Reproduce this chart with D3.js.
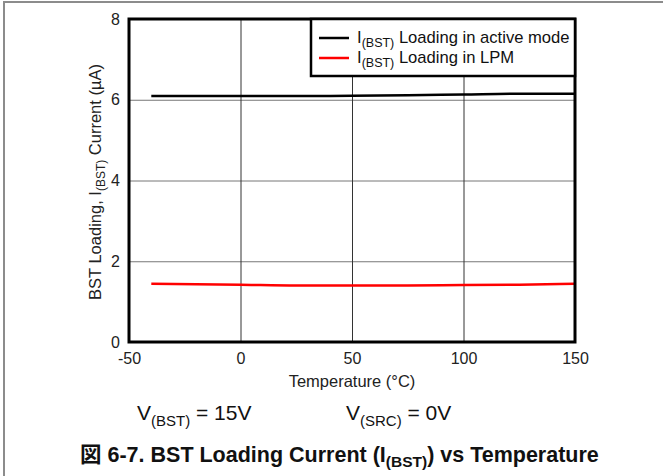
<!DOCTYPE html>
<html><head><meta charset="utf-8">
<script src="https://cdn.jsdelivr.net/npm/d3@7"></script>
<style>
body{margin:0;background:#fff;}
text{font-family:"Liberation Sans",Arial,sans-serif;}
</style></head>
<body><svg id="c" width="663" height="476"></svg>
<script>
const temps = [-40, 0, 25, 50, 75, 100, 125, 150];
const activeMode = [6.09, 6.09, 6.09, 6.10, 6.11, 6.13, 6.15, 6.15];
const lpm = [1.445, 1.42, 1.40, 1.40, 1.40, 1.41, 1.42, 1.44];
const xTicks = [-50, 0, 50, 100, 150];
const yTicks = [0, 2, 4, 6, 8];
const seriesNames = ["Loading in active mode", "Loading in LPM"];
const seriesColors = ["#000000", "#ff0000"];

const svg = d3.select("#c");
const L = 129, R = 575, T = 19, B = 342;
const x = d3.scaleLinear().domain([-50, 150]).range([L, R]);
const y = d3.scaleLinear().domain([0, 8]).range([B, T]);

// outer figure border (top & left)
svg.append("line").attr("x1",4).attr("x2",663).attr("y1",2).attr("y2",2).attr("stroke","#8c8c8c").attr("stroke-width",2);
svg.append("line").attr("x1",4).attr("x2",4).attr("y1",1).attr("y2",476).attr("stroke","#8c8c8c").attr("stroke-width",2);

// grid
svg.append("g").selectAll("line").data(yTicks.filter(d=>d>0&&d<8)).join("line")
  .attr("x1",L).attr("x2",R).attr("y1",d=>y(d)+0.5).attr("y2",d=>y(d)+0.5)
  .attr("stroke","#777").attr("stroke-width",1);
svg.append("g").selectAll("line").data(xTicks.filter(d=>d>-50&&d<150)).join("line")
  .attr("y1",T).attr("y2",B).attr("x1",d=>x(d)+0.5).attr("x2",d=>x(d)+0.5)
  .attr("stroke","#333").attr("stroke-width",1);

// axes (labels only)
const fmt = d => String(d);
const xAxis = d3.axisBottom(x).tickValues(xTicks).tickFormat(fmt).tickSize(0).tickPadding(11);
const gx = svg.append("g").attr("transform",`translate(0,${B})`).call(xAxis);
gx.select(".domain").remove();
gx.selectAll("text").attr("font-size",16).attr("fill","#222").attr("font-family","Liberation Sans, Arial, sans-serif");
const yAxis = d3.axisLeft(y).tickValues(yTicks).tickFormat(fmt).tickSize(0).tickPadding(9);
const gy = svg.append("g").attr("transform",`translate(${L},0)`).call(yAxis);
gy.select(".domain").remove();
gy.selectAll("text").attr("font-size",16).attr("fill","#222").attr("font-family","Liberation Sans, Arial, sans-serif");

// series
const line = d3.line().x((d,i)=>x(temps[i])).y(d=>y(d)).curve(d3.curveMonotoneX);
[activeMode, lpm].forEach((s,k)=>{
  svg.append("path").datum(s).attr("d",line).attr("fill","none")
    .attr("stroke",seriesColors[k]).attr("stroke-width",2.5);
});

// frame
svg.append("rect").attr("x",L).attr("y",T).attr("width",R-L).attr("height",B-T)
  .attr("fill","none").attr("stroke","#000").attr("stroke-width",3);

// legend
const lg = svg.append("g");
lg.append("rect").attr("x",311).attr("y",T).attr("width",R-311).attr("height",57)
  .attr("fill","#fff").attr("stroke","#000").attr("stroke-width",2.5);
seriesNames.forEach((n,k)=>{
  const yy = 38 + k*20;
  lg.append("line").attr("x1",319).attr("x2",349).attr("y1",yy).attr("y2",yy)
    .attr("stroke",seriesColors[k]).attr("stroke-width",2.5);
  const t = lg.append("text").attr("x",357).attr("y",yy+5).attr("font-size",16.6).attr("fill","#111");
  t.append("tspan").text("I");
  t.append("tspan").attr("font-size",12.5).attr("dy",4).text("(BST)");
  t.append("tspan").attr("dy",-4).text(" " + n);
});

// axis titles
svg.append("text").attr("x",(L+R)/2).attr("y",387).attr("text-anchor","middle")
  .attr("font-size",16.5).attr("fill","#222").text("Temperature (°C)");
const yt = svg.append("text").attr("transform","translate(101,182) rotate(-90)")
  .attr("text-anchor","middle").attr("font-size",16.5).attr("fill","#222");
yt.append("tspan").text("BST Loading, I");
yt.append("tspan").attr("font-size",12).attr("dy",4).text("(BST)");
yt.append("tspan").attr("dy",-4).text(" Current (µA)");

// condition text
function cond(xp, sub, rest){
  const t = svg.append("text").attr("x",xp).attr("y",420).attr("font-size",21).attr("fill","#111");
  t.append("tspan").text("V");
  t.append("tspan").attr("font-size",15).attr("dy",6).text(sub);
  t.append("tspan").attr("dy",-6).text(rest);
}
cond(137, "(BST)", " = 15V");
cond(346, "(SRC)", " = 0V");

// caption
const cap = svg.append("text").attr("x",80).attr("y",462).attr("font-size",21.5)
  .attr("font-weight","bold").attr("fill","#111");
cap.append("tspan").attr("font-family","Noto Sans CJK JP").text("図");
cap.append("tspan").text(" 6-7. BST Loading Current (I");
cap.append("tspan").attr("font-size",15.5).attr("dy",5).text("(BST)");
cap.append("tspan").attr("dy",-5).text(") vs Temperature");
</script></body></html>
